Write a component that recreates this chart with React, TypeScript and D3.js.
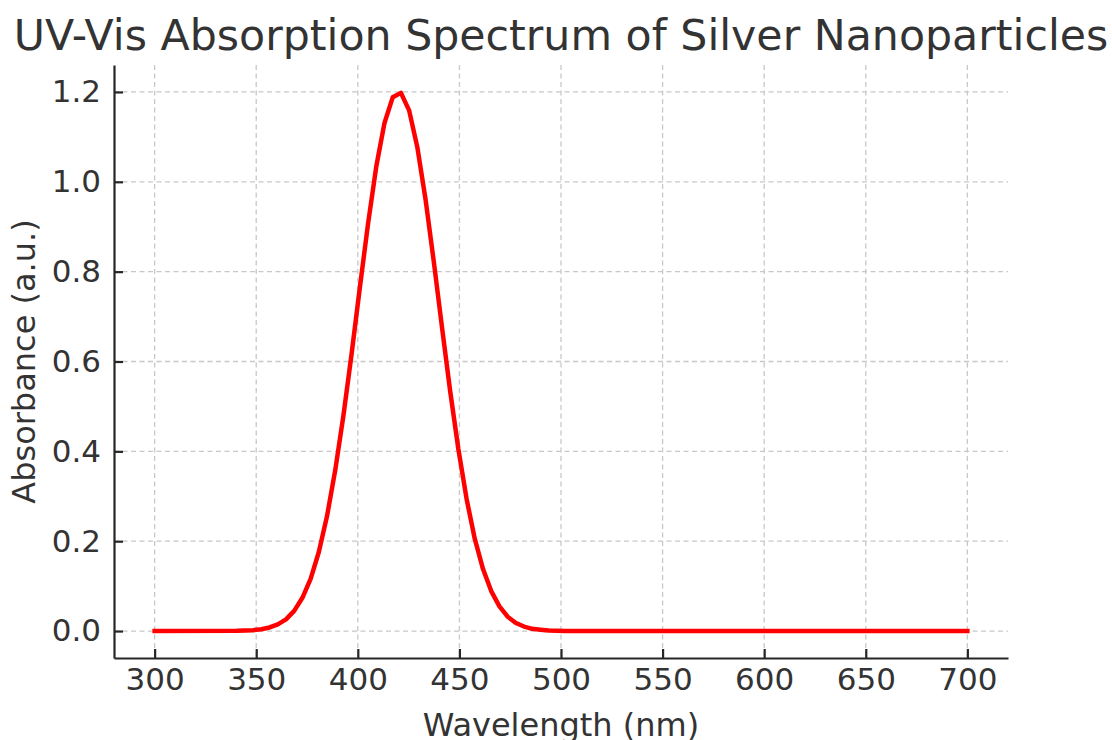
import React, { useEffect, useRef } from "react";
import * as d3 from "d3";

const wavelengths = [
  300, 340.4, 344.44, 348.48, 352.53, 356.57, 360.61, 364.65, 368.69, 372.73,
  376.77, 380.81, 384.85, 388.89, 392.93, 396.97, 401.01, 405.05, 409.09, 413.13,
  417.17, 421.21, 425.25, 429.29, 433.33, 437.37, 441.41, 445.45, 449.49, 453.54,
  457.58, 461.62, 465.66, 469.7, 473.74, 477.78, 481.82, 485.86, 489.9, 493.94,
  497.98, 502.02, 700,
];
const absorbance = [
  0, 0.0004, 0.001, 0.002, 0.004, 0.008, 0.015, 0.026, 0.045, 0.074,
  0.116, 0.176, 0.256, 0.358, 0.48, 0.618, 0.765, 0.907, 1.034, 1.131,
  1.188, 1.198, 1.159, 1.077, 0.961, 0.823, 0.677, 0.534, 0.405, 0.294,
  0.205, 0.138, 0.089, 0.055, 0.032, 0.018, 0.01, 0.005, 0.003, 0.001,
  0.0005, 0.0002, 0,
];
const xTicks = [300, 350, 400, 450, 500, 550, 600, 650, 700];
const yTicks = [0, 0.2, 0.4, 0.6, 0.8, 1.0, 1.2];

const W = 1112;
const H = 740;
const left = 114;
const right = 1008;
const top = 65;
const bottom = 658;

export default function App() {
  const ref = useRef<SVGSVGElement>(null);

  useEffect(() => {
    const svg = d3.select(ref.current);
    svg.selectAll("*").remove();
    const x = d3.scaleLinear().domain([280, 720]).range([left, right]);
    const y = d3.scaleLinear().domain([-0.06, 1.26]).range([bottom, top]);
    const font = "DejaVu Sans, sans-serif";
    const textColor = "#333333";

    // grid
    const grid = svg.append("g");
    xTicks.forEach((t) => {
      grid.append("line")
        .attr("x1", x(t)).attr("x2", x(t))
        .attr("y1", top).attr("y2", bottom)
        .attr("stroke", "#c8c8c8").attr("stroke-width", 1.3)
        .attr("stroke-dasharray", "5,3.5");
    });
    yTicks.forEach((t) => {
      grid.append("line")
        .attr("x1", left).attr("x2", right)
        .attr("y1", y(t)).attr("y2", y(t))
        .attr("stroke", "#c8c8c8").attr("stroke-width", 1.3)
        .attr("stroke-dasharray", "5,3.5");
    });

    // line
    const pts = wavelengths.map((w, i) => [w, absorbance[i]] as [number, number]);
    const line = d3.line<[number, number]>().x((d) => x(d[0])).y((d) => y(d[1]));
    svg.append("path")
      .attr("d", line(pts) || "")
      .attr("fill", "none")
      .attr("stroke", "#ff0000")
      .attr("stroke-width", 4.5)
      .attr("stroke-linejoin", "round")
      .attr("stroke-linecap", "square");

    // axes
    const xAxis = d3.axisBottom(x).tickValues(xTicks).tickSizeInner(-9).tickSizeOuter(0).tickPadding(10)
      .tickFormat((d) => String(d));
    const gx = svg.append("g").attr("transform", `translate(0,${bottom})`).call(xAxis);
    const yAxis = d3.axisLeft(y).tickValues(yTicks).tickSizeInner(-9).tickSizeOuter(0).tickPadding(13)
      .tickFormat((d) => (d as number).toFixed(1));
    const gy = svg.append("g").attr("transform", `translate(${left},0)`).call(yAxis);

    [gx, gy].forEach((g) => {
      g.select(".domain").attr("stroke", "#262626").attr("stroke-width", 2.2);
      g.selectAll(".tick line").attr("stroke", "#262626").attr("stroke-width", 2.2);
      g.selectAll(".tick text")
        .attr("fill", textColor)
        .attr("font-family", font)
        .attr("font-size", 31);
    });

    // title
    svg.append("text")
      .attr("x", 561).attr("y", 50)
      .attr("text-anchor", "middle")
      .attr("font-family", font).attr("font-size", 42.7)
      .attr("fill", textColor)
      .text("UV-Vis Absorption Spectrum of Silver Nanoparticles");

    // x label
    svg.append("text")
      .attr("x", 561).attr("y", 736)
      .attr("text-anchor", "middle")
      .attr("font-family", font).attr("font-size", 32)
      .attr("fill", textColor)
      .text("Wavelength (nm)");

    // y label
    svg.append("text")
      .attr("transform", `translate(35,${(top + bottom) / 2}) rotate(-90)`)
      .attr("text-anchor", "middle")
      .attr("font-family", font).attr("font-size", 32)
      .attr("fill", textColor)
      .text("Absorbance (a.u.)");
  }, []);

  return (
    <svg
      ref={ref}
      width={W}
      height={H}
      style={{ position: "absolute", left: 0, top: 0, background: "#fff" }}
    />
  );
}
